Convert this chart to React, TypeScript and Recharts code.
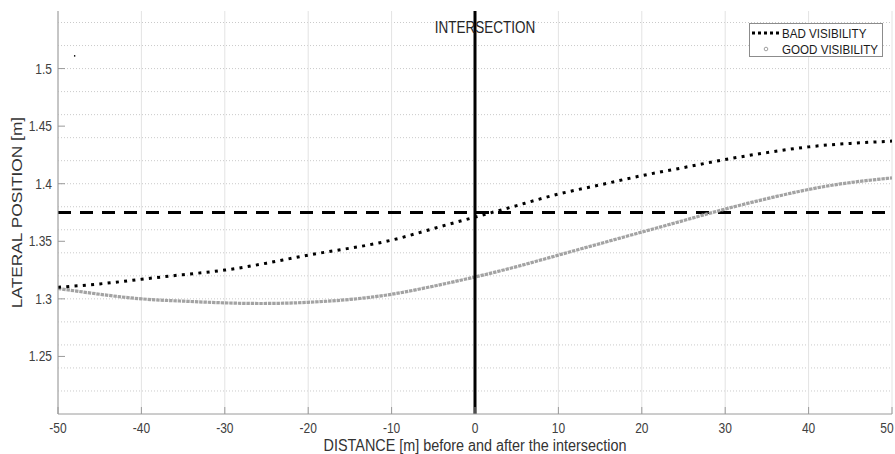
import {
  LineChart,
  Line,
  XAxis,
  YAxis,
  CartesianGrid,
  ReferenceLine,
  ReferenceDot,
  Legend,
} from "recharts";

// Distance from the intersection [m], sampled every 5 m
const distance = [
  -50, -45, -40, -35, -30, -25, -20, -15, -10, -5, 0, 5, 10, 15, 20, 25, 30,
  35, 40, 45, 50,
];

// Lateral position [m]
const badVisibility = [
  1.31, 1.313, 1.317, 1.321, 1.325, 1.331, 1.338, 1.344, 1.351, 1.361, 1.371,
  1.381, 1.391, 1.399, 1.407, 1.414, 1.421, 1.427, 1.432, 1.435, 1.437,
];
const goodVisibility = [
  1.309, 1.304, 1.3, 1.298, 1.2965, 1.296, 1.297, 1.2995, 1.304, 1.311, 1.319,
  1.328, 1.338, 1.348, 1.358, 1.368, 1.378, 1.387, 1.395, 1.401, 1.405,
];

const xTicks = [-50, -40, -30, -20, -10, 0, 10, 20, 30, 40, 50];
const yTicks = [1.25, 1.3, 1.35, 1.4, 1.45, 1.5];
const yMinorGrid = [
  1.21, 1.22, 1.23, 1.24, 1.25, 1.26, 1.27, 1.28, 1.29, 1.3, 1.31, 1.32, 1.33,
  1.34, 1.35, 1.36, 1.37, 1.38, 1.39, 1.4, 1.41, 1.42, 1.43, 1.44, 1.45, 1.46,
  1.47, 1.48, 1.49, 1.5, 1.51, 1.52, 1.53, 1.54,
];
const laneReference = 1.375;
const strayPoint = { x: -48, y: 1.511 };

const X_DOMAIN: [number, number] = [-50, 50];
const Y_DOMAIN: [number, number] = [1.2, 1.55];

const AXIS_COLOR = "#9a9a9a";
const TEXT_COLOR = "#404040";
// the source image is slightly stretched vertically, so text is too
const STRETCH = 1.17;

const data = distance.map((d, i) => ({
  d,
  bad: badVisibility[i],
  good: goodVisibility[i],
}));

function XTick({ x, y, payload }: any) {
  return (
    <text
      transform={`translate(${x},${y}) scale(1,${STRETCH})`}
      textAnchor="middle"
      dy="0.72em"
      fontSize={12}
      fill={TEXT_COLOR}
    >
      {payload.value}
    </text>
  );
}

function YTick({ x, y, payload }: any) {
  return (
    <text
      transform={`translate(${x},${y}) scale(1,${STRETCH})`}
      textAnchor="end"
      dy="0.36em"
      fontSize={12}
      fill={TEXT_COLOR}
    >
      {String(payload.value)}
    </text>
  );
}

function XAxisTitle({ viewBox }: any) {
  const cx = viewBox.x + viewBox.width / 2;
  return (
    <text
      transform={`translate(${cx},${451}) scale(1,${STRETCH})`}
      textAnchor="middle"
      fontSize={14.4}
      fill="#333"
    >
      DISTANCE [m] before and after the intersection
    </text>
  );
}

function YAxisTitle({ viewBox }: any) {
  const cy = viewBox.y + viewBox.height / 2;
  return (
    <text
      transform={`translate(22,${cy}) rotate(-90) scale(${STRETCH},1)`}
      textAnchor="middle"
      fontSize={14.8}
      fill="#333"
    >
      LATERAL POSITION [m]
    </text>
  );
}

function IntersectionLabel({ viewBox }: any) {
  return (
    <text
      transform={`translate(${viewBox.x + 10},${33}) scale(1,${STRETCH})`}
      textAnchor="middle"
      fontSize={13.5}
      fill="#262626"
    >
      INTERSECTION
    </text>
  );
}

function LegendBox() {
  const row = {
    position: "absolute" as const,
    left: 0,
    height: 16,
    display: "flex",
    alignItems: "center",
  };
  const label = {
    display: "inline-block",
    transform: `scaleY(${STRETCH})`,
  };
  return (
    <div
      style={{
        width: 134,
        height: 34,
        boxSizing: "border-box",
        border: "1px solid #8c8c8c",
        background: "#fff",
        fontSize: 11.6,
        color: "#1a1a1a",
        position: "relative",
        lineHeight: "16px",
      }}
    >
      <div style={{ ...row, top: 1 }}>
        <svg width={32} height={16}>
          {[0, 1, 2, 3, 4].map((i) => (
            <rect key={i} x={2 + i * 6} y={6.5} width={3} height={3} fill="#000" />
          ))}
        </svg>
        <span style={label}>BAD VISIBILITY</span>
      </div>
      <div style={{ ...row, top: 17 }}>
        <svg width={32} height={16}>
          <circle cx={16} cy={8} r={1.8} fill="none" stroke="#a0a0a0" strokeWidth={1} />
        </svg>
        <span style={label}>GOOD VISIBILITY</span>
      </div>
    </div>
  );
}

export default function App() {
  return (
    <div
      style={{
        position: "absolute",
        left: 0,
        top: 0,
        width: 895,
        height: 454,
        background: "#fff",
        fontFamily: '"Liberation Sans", Arial, sans-serif',
      }}
    >
      <LineChart
        width={895}
        height={454}
        data={data}
        margin={{ top: 11, right: 3, bottom: 0, left: 0 }}
      >
        <CartesianGrid
          vertical={false}
          horizontalValues={yMinorGrid}
          stroke="#bdbdbd"
          strokeDasharray="1 2"
          strokeWidth={0.8}
        />
        <CartesianGrid
          horizontal={false}
          verticalValues={xTicks}
          stroke="#e3e3e3"
          strokeWidth={1}
        />
        <XAxis
          dataKey="d"
          type="number"
          domain={X_DOMAIN}
          ticks={xTicks}
          allowDataOverflow
          height={40}
          stroke={AXIS_COLOR}
          tickSize={-7}
          tickMargin={16}
          tick={<XTick />}
          label={<XAxisTitle />}
        />
        <XAxis
          xAxisId="top"
          orientation="top"
          dataKey="d"
          type="number"
          domain={X_DOMAIN}
          ticks={xTicks}
          height={0}
          stroke={AXIS_COLOR}
          tickSize={-7}
          tick={false}
        />
        <YAxis
          type="number"
          domain={Y_DOMAIN}
          ticks={yTicks}
          allowDataOverflow
          width={58}
          stroke={AXIS_COLOR}
          tickSize={-7}
          tickMargin={13}
          tick={<YTick />}
          label={<YAxisTitle />}
        />
        <YAxis
          yAxisId="right"
          orientation="right"
          type="number"
          domain={Y_DOMAIN}
          ticks={yTicks}
          width={0}
          stroke={AXIS_COLOR}
          tickSize={-7}
          tick={false}
        />
        <ReferenceLine
          y={laneReference}
          stroke="#000"
          strokeWidth={3}
          strokeDasharray="13 9"
        />
        <Line
          name="GOOD VISIBILITY"
          type="natural"
          dataKey="good"
          stroke="#a3a3a3"
          strokeWidth={3.2}
          strokeDasharray="3.4 0.9"
          dot={false}
          isAnimationActive={false}
        />
        <Line
          name="BAD VISIBILITY"
          type="natural"
          dataKey="bad"
          stroke="#000"
          strokeWidth={3}
          strokeDasharray="3 5.3"
          dot={false}
          isAnimationActive={false}
        />
        <ReferenceLine
          x={0}
          stroke="#000"
          strokeWidth={3}
          label={<IntersectionLabel />}
        />
        <ReferenceDot
          x={strayPoint.x}
          y={strayPoint.y}
          r={0.8}
          fill="#000"
          stroke="none"
        />
        <Legend
          layout="horizontal"
          verticalAlign="middle"
          align="center"
          content={() => <LegendBox />}
          wrapperStyle={{ position: "absolute", top: 23, left: 749, width: 134 }}
        />
      </LineChart>
    </div>
  );
}
